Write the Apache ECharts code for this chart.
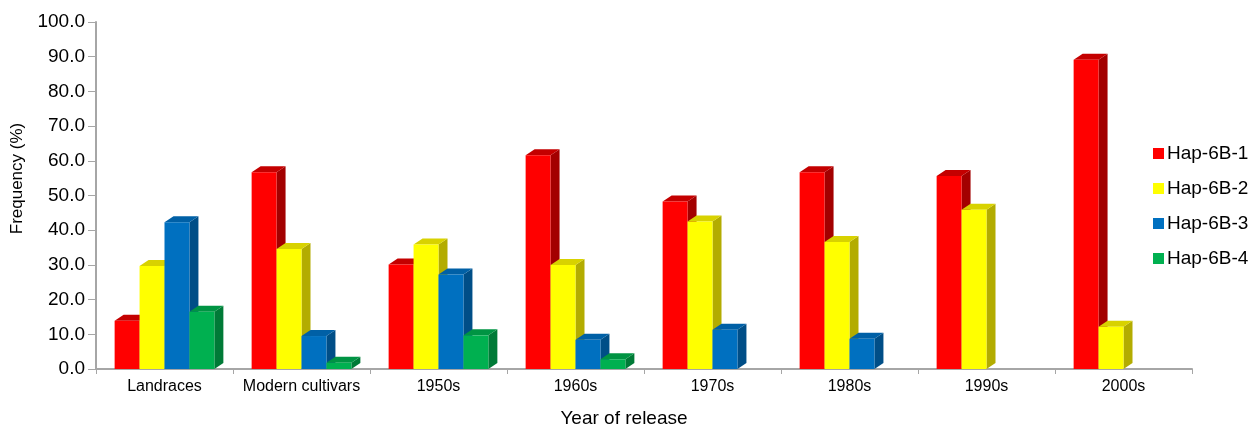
<!DOCTYPE html>
<html>
<head>
<meta charset="utf-8">
<script src="https://cdn.jsdelivr.net/npm/echarts@6/dist/echarts.min.js"></script>
<style>
html,body{margin:0;padding:0;background:#fff;overflow:hidden;}
#chart{width:1253px;height:433px;}
</style>
</head>
<body>
<div id="chart"></div>
<script>
const categories = ['Landraces','Modern cultivars','1950s','1960s','1970s','1980s','1990s','2000s'];
const seriesNames = ['Hap-6B-1','Hap-6B-2','Hap-6B-3','Hap-6B-4'];
const hap1 = [13.9, 56.7, 30.1, 61.6, 48.3, 56.7, 55.6, 89.1];
const hap2 = [29.7, 34.6, 35.9, 30.0, 42.5, 36.6, 45.9, 12.2];
const hap3 = [42.3, 9.5, 27.2, 8.4, 11.3, 8.7, null, null];
const hap4 = [16.5, 1.8, 9.7, 2.8, null, null, null, null];
const yTicks = [0,10,20,30,40,50,60,70,80,90,100];

const seriesValues = [hap1, hap2, hap3, hap4];
const frontColors = ['#ff0000','#ffff00','#0070c0','#00b050'];
const sideColors  = ['#a30000','#b3ac00','#004e87','#007a37'];
const topColors   = ['#c40000','#d8d200','#0060a6','#009443'];

const chart = echarts.init(document.getElementById('chart'), null, {renderer:'canvas'});

function makeRender(si){
  return function(params, api){
    const ci = api.value(0);
    const v = api.value(1);
    const top = api.coord([ci, v]);
    const base = api.coord([ci, 0]);
    const band = api.size([1, 0])[0];
    const w = band * 0.182;
    const dx = 9, dy = 6;
    const x = top[0] + (si - 2) * w;
    const yT = top[1], yB = base[1];
    return {
      type:'group',
      children:[
        {type:'polygon', shape:{points:[[x+w,yT],[x+w+dx,yT-dy],[x+w+dx,yB-dy],[x+w,yB]]}, style:{fill:sideColors[si]}},
        {type:'polygon', shape:{points:[[x,yT],[x+dx,yT-dy],[x+w+dx,yT-dy],[x+w,yT]]}, style:{fill:topColors[si]}},
        {type:'rect', shape:{x:x, y:yT, width:w, height:yB-yT}, style:{fill:frontColors[si]}}
      ]
    };
  };
}

const series = seriesValues.map((vals, si) => ({
  name: seriesNames[si],
  type: 'custom',
  renderItem: makeRender(si),
  itemStyle: {color: frontColors[si]},
  encode: {x:0, y:1},
  data: vals.map((v, i) => v == null ? null : [i, v]).filter(d => d)
}));

chart.setOption({
  animation:false,
  color: frontColors,
  grid:{left:96, right:61, top:22, bottom:59, containLabel:false},
  legend:{
    orient:'vertical', left:1148, top:139,
    itemWidth:11, itemHeight:11, itemGap:16,
    icon:'rect',
    textStyle:{fontFamily:'Liberation Sans, Arial, sans-serif', fontSize:19, color:'#000', padding:[0,0,0,-2]},
    data: seriesNames
  },
  xAxis:{
    type:'category', data:categories,
    axisLine:{lineStyle:{color:'#a6a6a6', width:2}},
    axisTick:{show:true, length:5, lineStyle:{color:'#a6a6a6'}},
    axisLabel:{fontFamily:'Liberation Sans, Arial, sans-serif', fontSize:16, color:'#000', margin:10, interval:0},
    name:'Year of release', nameLocation:'middle', nameGap:40,
    nameTextStyle:{fontFamily:'Liberation Sans, Arial, sans-serif', fontSize:19, color:'#000', padding:[0,40,0,0]}
  },
  yAxis:{
    type:'value', min:0, max:100, interval:10,
    splitLine:{show:false},
    axisLine:{show:true, lineStyle:{color:'#a6a6a6', width:2}},
    axisTick:{show:true, length:8, lineStyle:{color:'#a6a6a6'}},
    axisLabel:{fontFamily:'Liberation Sans, Arial, sans-serif', fontSize:19, color:'#000', margin:11,
      formatter: v => yTicks.indexOf(v) >= 0 ? v.toFixed(1) : ''},
    name:'Frequency (%)', nameLocation:'middle', nameGap:70, nameRotate:90,
    nameTextStyle:{fontFamily:'Liberation Sans, Arial, sans-serif', fontSize:17, color:'#000', padding:[0,0,0,34]}
  },
  series: series
});
</script>
</body>
</html>
